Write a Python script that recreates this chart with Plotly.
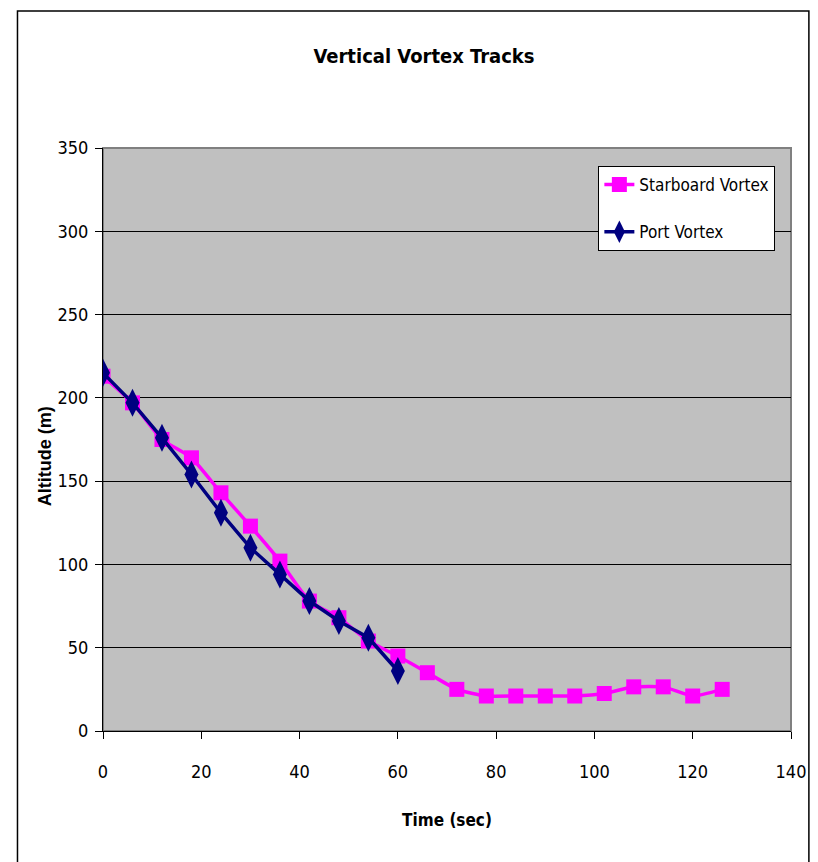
import plotly.graph_objects as go

# Vortex altitude tracks (time in seconds, altitude in metres)
starboard_time = [0, 6, 12, 18, 24, 30, 36, 42, 48, 54, 60, 66, 72, 78, 84, 90, 96, 102, 108, 114, 120, 126]
starboard_alt = [213, 197, 175, 164, 143, 123, 102, 78, 68, 54, 45, 35, 25, 21, 21, 21, 21, 22.5, 26.5, 26.5, 21, 25]

port_time = [0, 6, 12, 18, 24, 30, 36, 42, 48, 54, 60]
port_alt = [215, 197, 176, 154, 131, 110, 94, 78, 66, 56, 36]

x_ticks = [0, 20, 40, 60, 80, 100, 120, 140]
y_ticks = [0, 50, 100, 150, 200, 250, 300, 350]

NARROW = "DejaVu Sans Condensed, Liberation Sans Narrow, Arial Narrow, sans-serif"
WIDE = "Liberation Sans, Arial, sans-serif"


def narrow(size, bold=False):
    return dict(family=NARROW, size=size, color="black",
                weight="bold" if bold else "normal")


fig = go.Figure()

fig.add_trace(go.Scatter(
    x=starboard_time, y=starboard_alt, name="Starboard Vortex",
    mode="lines+markers", legendgroup="s",
    line=dict(color="#FF00FF", width=3.5, shape="spline", smoothing=0.5),
    marker=dict(symbol="square", size=15, color="#FF00FF"),
))
fig.add_trace(go.Scatter(
    x=port_time, y=port_alt, name="Port Vortex",
    mode="lines+markers", legendgroup="p",
    line=dict(color="#000080", width=3.5),
    marker=dict(symbol="diamond-tall", size=20, color="#000080"),
))

# frame around the whole chart area
fig.add_shape(type="rect", xref="paper", yref="paper",
              x0=-0.1243, x1=1.026, y0=-0.3, y1=1.235,
              line=dict(color="black", width=1.5), fillcolor="rgba(0,0,0,0)", layer="below")

# vertical axis title, placed as a rotated annotation
fig.add_annotation(text="<b>Altitude (m)</b>", textangle=-90, showarrow=False,
                   xref="paper", yref="paper", x=(45 - 103) / 692, y=(731 - 456) / 583,
                   xanchor="center", yanchor="middle",
                   font=dict(family=WIDE, size=18, color="black"))

fig.update_layout(
    width=818, height=862,
    margin=dict(l=103, r=23, t=148, b=131),
    paper_bgcolor="white",
    plot_bgcolor="#C0C0C0",
    title=dict(text="Vertical Vortex Tracks", x=424 / 818, xanchor="center",
               y=1 - 56 / 862, yanchor="middle", font=narrow(20, bold=True)),
    showlegend=True,
    legend=dict(x=0.72, y=0.969, xanchor="left", yanchor="top",
                bgcolor="white", bordercolor="black", borderwidth=1,
                font=narrow(17), tracegroupgap=22, traceorder="grouped"),
)

fig.update_xaxes(
    range=[0, 140], tickvals=x_ticks, ticks="outside", ticklen=7, tickcolor="black",
    ticklabelstandoff=17,
    showgrid=False, zeroline=False, showline=True, linecolor="black", linewidth=1,
    tickfont=narrow(18),
    title=dict(text="Time (sec)", font=narrow(17, bold=True), standoff=33),
)
fig.update_yaxes(
    range=[0, 350], tickvals=y_ticks, ticks="outside", ticklen=7, tickcolor="black",
    ticklabelstandoff=3,
    showgrid=True, gridcolor="black", gridwidth=1, zeroline=False,
    showline=True, linecolor="black", linewidth=1,
    tickfont=narrow(18),
)

# gray border on top/right of the plotting area
fig.add_shape(type="rect", xref="paper", yref="paper", x0=0, x1=1, y0=0, y1=1,
              line=dict(color="#808080", width=2), layer="below")

fig.write_html("out.html")
